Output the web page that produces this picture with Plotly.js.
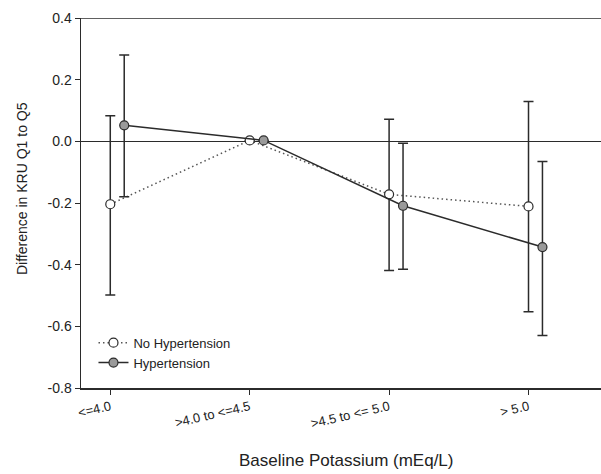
<!DOCTYPE html>
<html>
<head>
<meta charset="utf-8">
<script src="https://cdn.plot.ly/plotly-3.0.1.min.js"></script>
<style>html,body{margin:0;padding:0;background:#fff;}#chart{width:601px;height:474px;}</style>
</head>
<body>
<div id="chart"></div>
<script>
const categories = ["<=4.0", ">4.0 to <=4.5", ">4.5 to <= 5.0", "> 5.0"];
const catPos = [0, 1, 2, 3];
const htOffset = 0.1;

const noHtValues = [-0.204, 0.003, -0.172, -0.211];
const noHtUpper = [0.083, 0.003, 0.072, 0.129];
const noHtLower = [-0.498, 0.003, -0.419, -0.553];

const htValues = [0.052, 0.003, -0.209, -0.343];
const htUpper = [0.280, 0.003, -0.006, -0.065];
const htLower = [-0.180, 0.003, -0.415, -0.630];

const yTicks = [0.4, 0.2, 0.0, -0.2, -0.4, -0.6, -0.8];
const yTickText = ["0.4", "0.2", "0.0", "-0.2", "-0.4", "-0.6", "-0.8"];

const xTitle = 'Baseline Potassium (mEq/L)';
const yTitle = 'Difference in KRU Q1 to Q5';

function plus(v, u) { return v.map((x, i) => u[i] - x); }
function minus(v, l) { return v.map((x, i) => x - l[i]); }

const noHtX = catPos.slice();
const htX = catPos.map(p => p + htOffset);

const lineColor = '#2b2b2b';

const traces = [
  {
    name: 'No Hypertension',
    x: noHtX, y: noHtValues,
    mode: 'lines+markers',
    line: {color: '#555', width: 1.5, dash: '1.5px,3px'},
    marker: {symbol: 'circle', size: 9, color: '#ffffff', line: {color: lineColor, width: 1.2}},
    error_y: {type: 'data', symmetric: false, array: plus(noHtValues, noHtUpper), arrayminus: minus(noHtValues, noHtLower), color: lineColor, thickness: 1.5, width: 5}
  },
  {
    name: 'Hypertension',
    x: htX, y: htValues,
    mode: 'lines+markers',
    line: {color: lineColor, width: 1.5},
    marker: {symbol: 'circle', size: 9, color: '#9a9a9a', line: {color: lineColor, width: 1.2}},
    error_y: {type: 'data', symmetric: false, array: plus(htValues, htUpper), arrayminus: minus(htValues, htLower), color: lineColor, thickness: 1.5, width: 5}
  }
];

const layout = {
  width: 601, height: 474,
  margin: {l: 81, r: 0, t: 18, b: 86},
  paper_bgcolor: '#ffffff', plot_bgcolor: '#ffffff',
  font: {family: 'Liberation Sans, Arial, sans-serif', size: 13, color: '#222'},
  showlegend: true,
  legend: {x: 0.024, y: 0.163, xanchor: 'left', yanchor: 'top', bgcolor: 'rgba(255,255,255,0)', font: {size: 13, color: '#222'}, tracegroupgap: 0, itemwidth: 30},
  xaxis: {
    range: [-0.21, 3.52],
    tickvals: catPos, ticktext: categories,
    tickangle: -13,
    ticks: 'outside', ticklen: 5, tickcolor: lineColor,
    showline: true, linecolor: lineColor, linewidth: 1.5,
    showgrid: false, zeroline: false,
    tickfont: {size: 13}
  },
  yaxis: {
    range: [-0.8, 0.4],
    tickvals: yTicks, ticktext: yTickText,
    ticks: 'outside', ticklen: 5, tickcolor: lineColor,
    showline: true, linecolor: lineColor, linewidth: 1.5,
    showgrid: false,
    zeroline: true, zerolinecolor: lineColor, zerolinewidth: 1.5,
    tickfont: {size: 14}
  },
  annotations: [
    {text: xTitle, xref: 'paper', yref: 'paper', x: 0.5096, y: -0.1946, xanchor: 'center', yanchor: 'middle', showarrow: false, font: {size: 17, color: '#222'}},
    {text: yTitle, xref: 'paper', yref: 'paper', x: -0.1135, y: 0.5405, xanchor: 'center', yanchor: 'middle', textangle: -90, showarrow: false, font: {size: 14, color: '#222'}}
  ],
  shapes: [
    {type: 'line', xref: 'paper', yref: 'y', x0: 0, x1: 1, y0: 0.4, y1: 0.4, line: {color: lineColor, width: 1.5}}
  ]
};

Plotly.newPlot('chart', traces, layout, {displayModeBar: false, staticPlot: true});
</script>
</body>
</html>
